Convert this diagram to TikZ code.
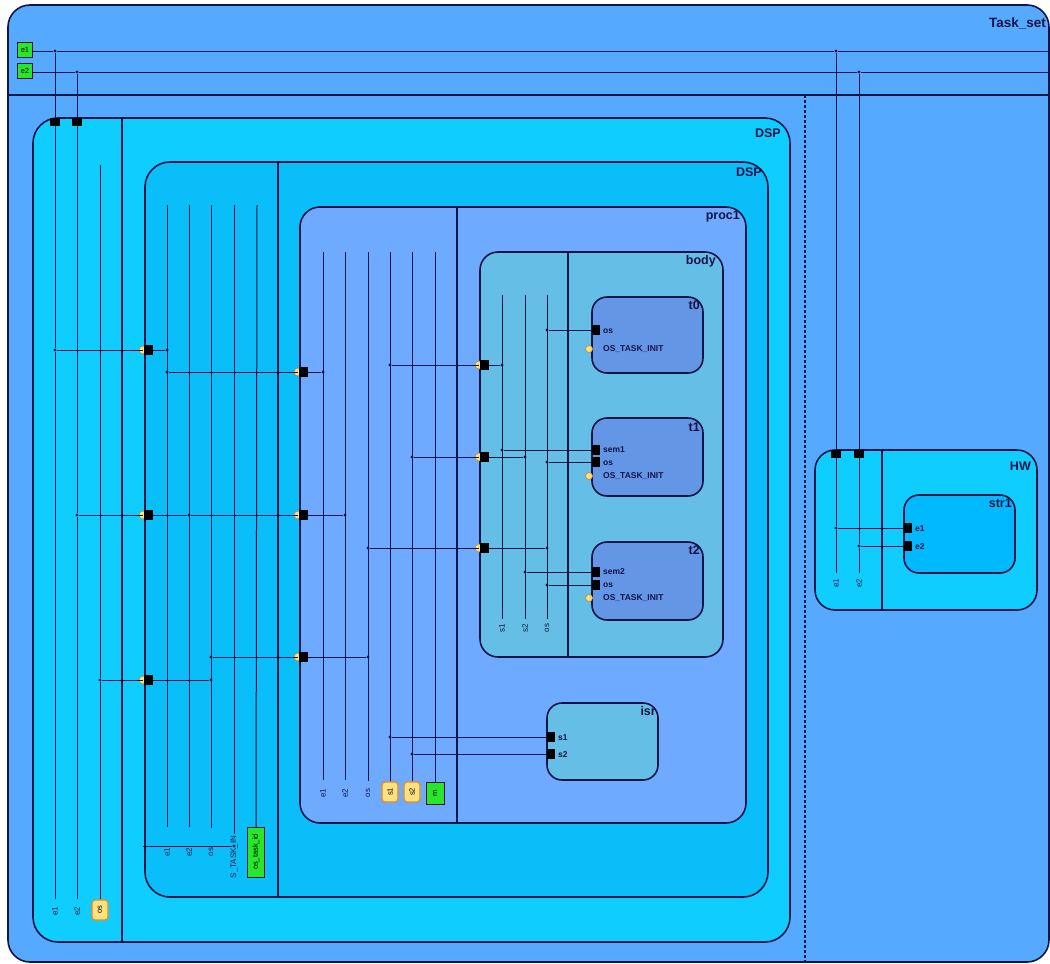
\documentclass[tikz,border=0pt]{standalone}
\usepackage{fontspec}
\setmainfont{Liberation Sans}
\usepackage{xcolor}
\definecolor{taskbg}{RGB}{85,170,255}
\definecolor{dspout}{RGB}{15,205,255}
\definecolor{dspin}{RGB}{10,190,250}
\definecolor{procbg}{RGB}{110,170,255}
\definecolor{bodybg}{RGB}{100,190,230}
\definecolor{taskfill}{RGB}{100,150,230}
\definecolor{strbg}{RGB}{0,185,255}
\definecolor{wire}{RGB}{20,20,70}
\definecolor{sigon}{RGB}{40,230,40}
\definecolor{semfill}{RGB}{255,225,130}
\definecolor{semedge}{RGB}{225,140,30}
\tikzset{
  blk/.style={draw=wire, line width=1.6pt, rounded corners=#1},
  sep/.style={draw=wire, line width=1.3pt},
  sig/.style={draw=wire, line width=1pt},
  port/.style={fill=black, inner sep=0pt, minimum width=9pt, minimum height=10pt},
  topport/.style={fill=black, inner sep=0pt, minimum width=10pt, minimum height=8pt},
  jn/.style={circle, fill=wire, inner sep=0pt, minimum size=3.4pt},
  ring/.style={draw=semedge!70!gray, fill=semfill, line width=0.7pt},
  title/.style={font=\fontsize{12.5}{14}\selectfont\bfseries, anchor=east, text=wire, inner sep=0pt},
  plbl/.style={font=\fontsize{8.5}{10}\selectfont\bfseries, anchor=west, text=wire, inner sep=0pt},
  vlbl/.style={font=\fontsize{8}{9}\selectfont, rotate=90, text=wire, inner sep=0pt},
  gbox/.style={draw=wire, fill=sigon, inner sep=1pt, font=\fontsize{7.5}{8}\selectfont, minimum width=15pt, minimum height=15pt},
  sem/.style={draw=semedge, fill=semfill, line width=1.2pt, rounded corners=3pt, rotate=90, inner sep=0pt,
    minimum width=20pt, minimum height=16pt, font=\fontsize{7.5}{8}\selectfont},
}

\begin{document}
\begin{tikzpicture}[x=1pt, y=-1pt]
    \useasboundingbox (0,0) rectangle (1050,964);
    \clip (0,0) rectangle (1050,964);
    \fill[white] (0,0) rectangle (1050,964);

    % Containers, outermost first
    \draw[blk=22pt, fill=taskbg] (8,5) rectangle (1049,962);
    \draw[sep] (8,95) -- (1049,95);
    \draw[sep, dash pattern=on 3pt off 2pt] (805,95) -- (805,962);

    \draw[blk=25pt, fill=dspout] (33,118) rectangle (790,942);
    \draw[sep] (122,118) -- (122,942);
    \draw[blk=25pt, fill=dspin] (145,162) rectangle (768,897);
    \draw[sep] (278,162) -- (278,897);
    \draw[blk=20pt, fill=procbg] (300,207) rectangle (746,823);
    \draw[sep] (457,207) -- (457,823);
    \draw[blk=18pt, fill=bodybg] (480,252) rectangle (723,657);
    \draw[sep] (568,252) -- (568,657);
    \draw[blk=15pt, fill=taskfill] (592,297) rectangle (703,373);
    \draw[blk=15pt, fill=taskfill] (592,418) rectangle (703,496);
    \draw[blk=15pt, fill=taskfill] (592,542) rectangle (703,620);
    \draw[blk=15pt, fill=bodybg] (547,703) rectangle (658,780);
    \draw[blk=20pt, fill=dspout] (815,450) rectangle (1037,610);
    \draw[sep] (882,450) -- (882,610);
    \draw[blk=15pt, fill=strbg] (904,495) rectangle (1015,573);

    % Titles
    \node[title, font=\fontsize{13.5}{15}\selectfont\bfseries] (tTask) at (1046,23) {Task\_set};
    \node[title] (tDSPa) at (781,133) {DSP};
    \node[title] (tDSPb) at (762,172) {DSP};
    \node[title] (tProc) at (740,216) {proc1};
    \node[title] (tBody) at (716,261) {body};
    \node[title] (tT0) at (700,305) {t0};
    \node[title] (tT1) at (700,427) {t1};
    \node[title] (tT2) at (700,550) {t2};
    \node[title] (tIsr) at (656,711) {isr};
    \node[title] (tHW) at (1031,466) {HW};
    \node[title] (tStr) at (1012,503) {str1};

    % Init markers and port rings
    \draw[ring] (143,350) circle (4);
    \draw[ring] (143,515) circle (4);
    \draw[ring] (143,680) circle (4);
    \draw[ring] (298,372) circle (4);
    \draw[ring] (298,515) circle (4);
    \draw[ring] (298,657) circle (4);
    \draw[ring] (479,365) circle (4);
    \draw[ring] (479,457) circle (4);
    \draw[ring] (479,548) circle (4);
    \draw[ring] (589,349) circle (3.5);
    \draw[ring] (589,476) circle (3.5);
    \draw[ring] (589,598) circle (3.5);

    % Ports
    \node[topport] (pDe1) at (55,122) {};
    \node[topport] (pDe2) at (77,122) {};
    \node[port] (pIe1) at (148,350) {};
    \node[port] (pIe2) at (148,515) {};
    \node[port] (pIos) at (148,680) {};
    \node[port] (pPe1) at (303,372) {};
    \node[port] (pPe2) at (303,515) {};
    \node[port] (pPos) at (303,657) {};
    \node[port] (pBs1) at (484,365) {};
    \node[port] (pBs2) at (484,457) {};
    \node[port] (pBos) at (484,548) {};
    \node[port, minimum width=8pt] (pT0os) at (596,330) {};
    \node[port, minimum width=8pt] (pT1sem) at (596,450) {};
    \node[port, minimum width=8pt] (pT1os) at (596,462) {};
    \node[port, minimum width=8pt] (pT2sem) at (596,572) {};
    \node[port, minimum width=8pt] (pT2os) at (596,585) {};
    \node[port, minimum width=8pt] (pRs1) at (551,737) {};
    \node[port, minimum width=8pt] (pRs2) at (551,754) {};
    \node[topport] (pHe1) at (836,454) {};
    \node[topport] (pHe2) at (859,454) {};
    \node[port, minimum width=8pt] (pSe1) at (908,528) {};
    \node[port, minimum width=8pt] (pSe2) at (908,546) {};

    % Port texts
    \node[plbl] (nT0os) at (603,331) {os};
    \node[plbl] (nT0in) at (603,349) {OS\_TASK\_INIT};
    \node[plbl] (nT1sem) at (603,450) {sem1};
    \node[plbl] (nT1os) at (603,463) {os};
    \node[plbl] (nT1in) at (603,476) {OS\_TASK\_INIT};
    \node[plbl] (nT2sem) at (603,572) {sem2};
    \node[plbl] (nT2os) at (603,585) {os};
    \node[plbl] (nT2in) at (603,598) {OS\_TASK\_INIT};
    \node[plbl] (nRs1) at (558,738) {s1};
    \node[plbl] (nRs2) at (558,755) {s2};
    \node[plbl] (nSe1) at (915,529) {e1};
    \node[plbl] (nSe2) at (915,547) {e2};

    % Top-level signals
    \node[gbox] (e1) at (25,50) {e1};
    \node[gbox] (e2) at (25,71) {e2};
    \coordinate (e1end) at (1050,51);
    \coordinate (e2end) at (1050,72);
    \node[jn] (d1a) at (55,51) {};
    \node[jn] (d2a) at (77,72) {};
    \node[jn] (d1b) at (836,51) {};
    \node[jn] (d2b) at (859,72) {};
    \draw[sig] (e1.east |- d1a) -- (d1a) -- (d1b) -- (e1end);
    \draw[sig] (e2.east |- d2a) -- (d2a) -- (d2b) -- (e2end);
    \draw[sig] (d1a) -- (pDe1);
    \draw[sig] (d2a) -- (pDe2);
    \draw[sig] (d1b) -- (pHe1);
    \draw[sig] (d2b) -- (pHe2);

    % DSP (outer) strip
    \coordinate (tDos) at (100,165);
    \node[jn] (jD1) at (55,350) {};
    \node[jn] (jD2) at (77,515) {};
    \node[jn] (jD3) at (100,680) {};
    \node[vlbl] (lDe1) at (55,911) {e1};
    \node[vlbl] (lDe2) at (77,911) {e2};
    \node[sem] (sDos) at (100,910) {os};
    \draw[sig, shorten >=7pt] (pDe1) -- (jD1) -- (lDe1);
    \draw[sig, shorten >=7pt] (pDe2) -- (jD2) -- (lDe2);
    \draw[sig] (tDos) -- (jD3) -- (sDos);
    \draw[sig] (jD1) -- (pIe1);
    \draw[sig] (jD2) -- (pIe2);
    \draw[sig] (jD3) -- (pIos);

    % DSP (inner) strip
    \coordinate (tIe1) at (167,205);
    \coordinate (tIe2) at (189,205);
    \coordinate (tIos) at (211,205);
    \coordinate (tIst) at (234,205);
    \coordinate (tIid) at (257,205);
    \coordinate (hI) at (143,846);
    \node[jn] (jI1) at (167,350) {};
    \node[jn] (jI2) at (167,372) {};
    \node[jn] (jI3) at (189,515) {};
    \node[jn] (jI4) at (211,657) {};
    \node[jn] (jI5) at (211,680) {};
    \node[vlbl] (lIe1) at (167,852) {e1};
    \node[vlbl] (lIe2) at (189,852) {e2};
    \node[vlbl] (lIos) at (211,852) {os};
    \node[vlbl] (lIst) at (234,857) {S\_TASK\_IN};
    \node[gbox, rotate=90, minimum width=50pt, minimum height=17pt] (gIid) at (256,852) {os\_task\_id};
    \node[jn] (jI6) at (234,846) {};
    \draw[sig, shorten >=20pt] (tIe1) -- (lIe1);
    \draw[sig, shorten >=20pt] (tIe2) -- (lIe2);
    \draw[sig, shorten >=20pt] (tIos) -- (lIos);
    \draw[sig, shorten >=2pt] (tIst) -- (lIst);
    \draw[sig] (tIid) -- (gIid);
    \draw[sig] (hI) -- (jI6);
    \draw[sig] (pIe1) -- (jI1);
    \draw[sig] (jI2) -- (pPe1);
    \draw[sig] (pIe2) -- (jI3) -- (pPe2);
    \draw[sig] (jI4) -- (pPos);
    \draw[sig] (pIos) -- (jI5);

    % proc1 strip
    \coordinate (tPe1) at (323,252);
    \coordinate (tPe2) at (345,252);
    \coordinate (tPos) at (368,252);
    \coordinate (tPs1) at (390,252);
    \coordinate (tPs2) at (412,252);
    \coordinate (tPm) at (435,252);
    \node[jn] (jP1) at (323,372) {};
    \node[jn] (jP2) at (345,515) {};
    \node[jn] (jP3) at (368,657) {};
    \node[jn] (jP4) at (390,365) {};
    \node[jn] (jP5) at (412,457) {};
    \node[jn] (jP6) at (368,548) {};
    \node[jn] (jP7) at (390,737) {};
    \node[jn] (jP8) at (412,754) {};
    \node[vlbl] (lPe1) at (323,793) {e1};
    \node[vlbl] (lPe2) at (345,793) {e2};
    \node[vlbl] (lPos) at (368,793) {os};
    \node[sem] (sPs1) at (390,792) {s1};
    \node[sem] (sPs2) at (412,792) {s2};
    \node[gbox, rotate=90, minimum width=22pt, minimum height=18pt] (gPm) at (435,793) {m};
    \draw[sig, shorten >=8pt] (tPe1) -- (lPe1);
    \draw[sig, shorten >=8pt] (tPe2) -- (lPe2);
    \draw[sig, shorten >=8pt] (tPos) -- (lPos);
    \draw[sig] (tPs1) -- (sPs1);
    \draw[sig] (tPs2) -- (sPs2);
    \draw[sig] (tPm) -- (gPm);
    \draw[sig] (pPe1) -- (jP1);
    \draw[sig] (pPe2) -- (jP2);
    \draw[sig] (pPos) -- (jP3);
    \draw[sig] (jP4) -- (pBs1);
    \draw[sig] (jP5) -- (pBs2);
    \draw[sig] (jP6) -- (pBos);
    \draw[sig] (jP7) -- (pRs1);
    \draw[sig] (jP8) -- (pRs2);

    % body strip
    \coordinate (tBs1) at (502,295);
    \coordinate (tBs2) at (525,295);
    \coordinate (tBos) at (547,295);
    \node[jn] (jB1) at (502,365) {};
    \node[jn] (jB2) at (525,457) {};
    \node[jn] (jB3) at (547,548) {};
    \node[jn] (jB4) at (547,330) {};
    \node[jn] (jB5) at (502,450) {};
    \node[jn] (jB6) at (547,462) {};
    \node[jn] (jB7) at (525,572) {};
    \node[jn] (jB8) at (547,585) {};
    \node[vlbl] (lBs1) at (502,628) {s1};
    \node[vlbl] (lBs2) at (525,628) {s2};
    \node[vlbl] (lBos) at (547,628) {os};
    \draw[sig, shorten >=5pt] (tBs1) -- (lBs1);
    \draw[sig, shorten >=5pt] (tBs2) -- (lBs2);
    \draw[sig, shorten >=5pt] (tBos) -- (lBos);
    \draw[sig] (pBs1) -- (jB1);
    \draw[sig] (pBs2) -- (jB2);
    \draw[sig] (pBos) -- (jB3);
    \draw[sig] (jB4) -- (pT0os);
    \draw[sig] (jB5) -- (pT1sem);
    \draw[sig] (jB6) -- (pT1os);
    \draw[sig] (jB7) -- (pT2sem);
    \draw[sig] (jB8) -- (pT2os);

    % HW strip
    \node[jn] (jH1) at (836,528) {};
    \node[jn] (jH2) at (859,546) {};
    \node[vlbl] (lHe1) at (836,583) {e1};
    \node[vlbl] (lHe2) at (859,583) {e2};
    \draw[sig, shorten >=5pt] (pHe1) -- (jH1) -- (lHe1);
    \draw[sig, shorten >=5pt] (pHe2) -- (jH2) -- (lHe2);
    \draw[sig] (jH1) -- (pSe1);
    \draw[sig] (jH2) -- (pSe2);
\end{tikzpicture}
\end{document}
